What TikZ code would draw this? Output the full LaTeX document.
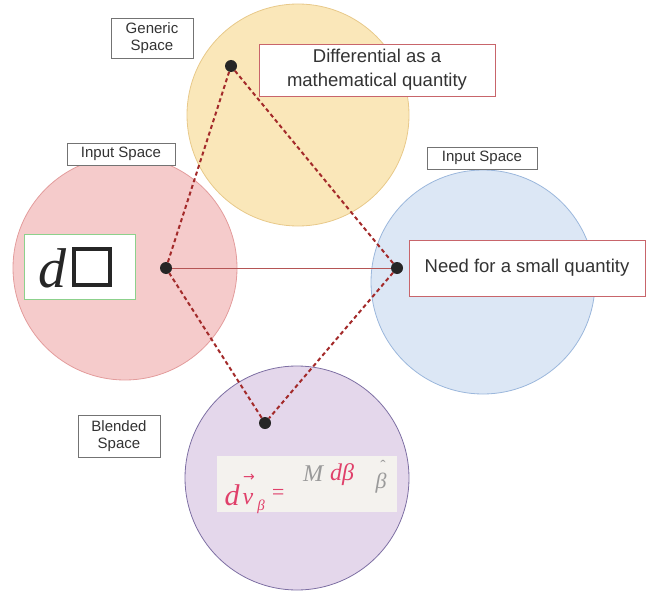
\documentclass[tikz,border=0pt]{standalone}
\usepackage{fontspec}
\setmainfont{Liberation Sans}
\newfontfamily\timesfont{Liberation Serif}
\newfontfamily\symfont{DejaVu Sans}
\usetikzlibrary{shadows}
\definecolor{genfill}{HTML}{FAE7B9}
\definecolor{gendraw}{HTML}{E8C98A}
\definecolor{infill}{HTML}{F5CBCB}
\definecolor{indraw}{HTML}{E39C9C}
\definecolor{in2fill}{HTML}{DCE7F5}
\definecolor{in2draw}{HTML}{9BB7DC}
\definecolor{blfill}{HTML}{E4D7EB}
\definecolor{bldraw}{HTML}{7D6FA3}
\definecolor{link}{HTML}{A32A2A}
\definecolor{boxred}{HTML}{C8656B}
\definecolor{txt}{HTML}{333333}
\definecolor{pen}{HTML}{E0406A}
\definecolor{pencil}{HTML}{9A9A9A}
\definecolor{paper}{HTML}{F4F2EE}
\tikzset{
  space/.style={line width=0.8pt},
  tag/.style={draw=black!55, fill=white, line width=0.6pt, font=\fontsize{15}{16.5}\selectfont,
    text=txt, align=center, inner sep=2pt},
  note/.style={draw=boxred, fill=white, line width=0.9pt, font=\fontsize{18.5}{24}\selectfont,
    text=txt, align=center, drop shadow={shadow xshift=1pt, shadow yshift=-1pt, opacity=0.25}},
  spot/.style={circle, fill=black!85, inner sep=0pt, minimum size=12pt},
  link/.style={draw=link, line width=2pt, dash pattern=on 4pt off 3pt},
  hand/.style={inner sep=0pt, font=\timesfont\itshape\fontsize{#1}{#1}\selectfont},
}
\begin{document}
\begin{tikzpicture}[x=1pt,y=-1pt]
\useasboundingbox (0,0) rectangle (650,591);

% the four spaces
\draw[space, draw=gendraw, fill=genfill] (298,115) circle (111pt);
\draw[space, draw=indraw, fill=infill] (125,268) circle (112pt);
\draw[space, draw=in2draw, fill=in2fill] (483,282) circle (112pt);
\draw[space, draw=bldraw, fill=blfill] (297,478) circle (112pt);

% space titles
\node[tag, minimum width=82pt, minimum height=40pt] (tg) at (152,38) {Generic\\Space};
\node[tag, minimum width=108pt, minimum height=22pt] (ti1) at (121,154) {Input Space};
\node[tag, minimum width=110pt, minimum height=22pt] (ti2) at (482,158) {Input Space};
\node[tag, minimum width=82pt, minimum height=42pt] (tb) at (119,436) {Blended\\Space};

% contents of the first input space
\node[draw=green!60!black!45, fill=white, line width=0.9pt, minimum width=111pt, minimum height=65pt]
  (dbox) at (80,267) {};
\node[font=\timesfont\itshape\fontsize{56}{56}\selectfont, text=black!85, inner sep=0pt] (dsym) at (52,268) {d};
\node[draw=black!85, line width=4pt, minimum size=36pt, inner sep=0pt] (sq) at (92,267) {};

% handwritten formula in the blended space
\node[fill=paper, minimum width=180pt, minimum height=56pt] (img) at (307,484) {};
\node[hand=30, text=pen] (hd) at (232,495) {d};
\node[hand=24, text=pen] (hv) at (248,499) {v};
\node[inner sep=0pt, font=\symfont\fontsize{14}{14}\selectfont, text=pen] (harr) at (249,478) {→};
\node[hand=15, text=pen] (hsub) at (261,507) {β};
\node[hand=22, text=pen] (heq) at (278,494) {=};
\node[hand=24, text=pencil] (hm) at (313,474) {M};
\node[hand=24, text=pen] (hdb) at (342,475) {dβ};
\node[hand=22, text=pencil] (hb) at (381,483) {β};
\node[inner sep=0pt, font=\timesfont\fontsize{16}{16}\selectfont, text=pencil] (hhat) at (383,466) {\char"02C6};

% focal points
\node[spot] (g) at (231,66) {};
\node[spot] (a) at (166,268) {};
\node[spot] (b) at (397,268) {};
\node[spot] (c) at (265,423) {};

% mapping between the spaces
\draw[draw=link!80, line width=0.7pt] (a) -- (b);
\draw[link] (a) -- (g) -- (b) -- (c) -- (a);

% notes
\node[note, minimum width=236pt, minimum height=52pt] (ng) at (377,70)
  {Differential as a\\mathematical quantity};
\node[note, minimum width=236pt, minimum height=56pt] (nb) at (527,268)
  {Need for a small quantity};
\end{tikzpicture}
\end{document}
